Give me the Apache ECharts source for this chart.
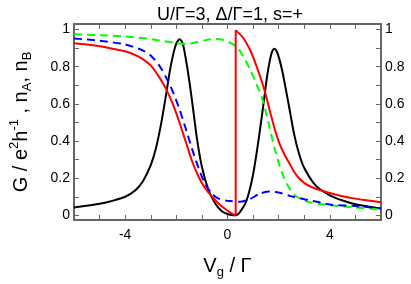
<!DOCTYPE html>
<html><head><meta charset="utf-8">
<script src="https://cdn.jsdelivr.net/npm/echarts@6/dist/echarts.min.js"></script>
<style>html,body{margin:0;padding:0;background:#fff}#c{width:411px;height:284px}</style>
</head><body><div id="c"></div>
<script>
const TITLE = 'U/Γ=3, Δ/Γ=1, s=+';
const X_TICK_LABELS = [-4, 0, 4];
const Y_TICKS = [0,0.1,0.2,0.3,0.4,0.5,0.6,0.7,0.8,0.9,1];
const Y_TICK_LABELS = [0,0.2,0.4,0.6,0.8,1];

const BLACK_X = [-6,-5.5,-5,-4.5,-4,-3.6,-3.3,-3,-2.8,-2.6,-2.4,-2.25,-2.1,-2.0,-1.87,-1.75,-1.64,-1.5,-1.38,-1.19,-1.0,-0.74,-0.48,-0.22,0,0.15,0.32,0.5,0.74,1.0,1.26,1.45,1.55,1.65,1.74,1.83,1.92,2.02,2.16,2.4,2.6,2.8,3.0,3.45,4,4.5,5,5.5,6];
const BLACK_Y = [0.042,0.052,0.062,0.078,0.10,0.135,0.185,0.27,0.36,0.49,0.65,0.78,0.88,0.925,0.948,0.925,0.85,0.73,0.61,0.41,0.26,0.135,0.064,0.022,0.007,0.002,0.0,0.02,0.078,0.22,0.45,0.646,0.75,0.83,0.88,0.897,0.885,0.845,0.765,0.59,0.44,0.33,0.255,0.16,0.108,0.08,0.06,0.048,0.037];

const RED_LEFT_X = [-6,-5.5,-5,-4.5,-4,-3.6,-3.3,-3,-2.67,-2.41,-2.15,-1.9,-1.64,-1.38,-1.12,-0.86,-0.6,-0.35,-0.09,0.1,0.32];
const RED_LEFT_Y = [0.927,0.92,0.91,0.897,0.883,0.862,0.84,0.807,0.744,0.682,0.604,0.509,0.40,0.29,0.205,0.143,0.10,0.064,0.034,0.016,0.0];
const RED_RIGHT_X = [0.32,0.61,0.87,1.13,1.39,1.52,1.65,1.84,2.03,2.23,2.42,2.6,2.8,3.0,3.2,3.45,4,4.5,5,5.5,6];
const RED_RIGHT_Y = [0.997,0.956,0.894,0.805,0.699,0.636,0.565,0.468,0.388,0.326,0.28,0.235,0.20,0.175,0.158,0.143,0.12,0.103,0.09,0.08,0.07];

const GREEN_X = [-6,-5,-4,-3,-2,-1.64,-1.25,-0.86,-0.48,-0.09,0.1,0.36,0.61,0.87,1.13,1.39,1.52,1.65,1.84,2.03,2.23,2.42,2.6,2.8,3.0,3.2,3.6,4,5,6];
const GREEN_Y = [0.975,0.97,0.963,0.949,0.927,0.923,0.93,0.943,0.949,0.943,0.93,0.908,0.858,0.788,0.708,0.615,0.545,0.468,0.362,0.27,0.195,0.145,0.113,0.092,0.079,0.07,0.061,0.055,0.042,0.032];

const BLUE_X = [-6,-5,-4,-3.3,-3,-2.67,-2.41,-2.15,-1.9,-1.64,-1.38,-1.12,-0.86,-0.6,-0.35,0,0.1,0.48,0.87,1.26,1.65,2.03,2.42,3,3.5,4,5,6];
const BLUE_Y = [0.952,0.94,0.92,0.887,0.86,0.807,0.745,0.67,0.58,0.47,0.355,0.25,0.165,0.115,0.09,0.078,0.077,0.073,0.087,0.117,0.128,0.122,0.105,0.087,0.073,0.058,0.05,0.037];

const zip = (xs, ys) => xs.map((x, i) => [x, ys[i]]);
const FONT = 'Liberation Sans, Arial, Helvetica, sans-serif';
const AXC = '#666';

function lineSeries(data, color, dashed, smooth) {
  return {
    type: 'line', data: data, showSymbol: false, symbol: 'none',
    smooth: smooth, sampling: null,
    lineStyle: { color: color, width: 2, type: dashed ? [8, 5] : 'solid' },
    xAxisIndex: 0, yAxisIndex: 0, animation: false, z: 3
  };
}

const xBase = {
  type: 'value', min: -6, max: 6, interval: 1,
  axisLine: { show: true, onZero: false, lineStyle: { color: AXC, width: 2 } },
  axisTick: { show: true, inside: true, length: 5, lineStyle: { color: AXC, width: 1 } },
  splitLine: { show: false }
};
const yBase = {
  type: 'value', min: -0.025, max: 1.03,
  axisLine: { show: true, onZero: false, lineStyle: { color: AXC, width: 2 } },
  axisTick: { show: true, inside: true, length: 5, customValues: Y_TICKS, lineStyle: { color: AXC, width: 1 } },
  splitLine: { show: false }
};
const yLabelFmt = v => String(Math.round(v * 10) / 10);

const chart = echarts.init(document.getElementById('c'), null, { renderer: 'canvas' });
chart.setOption({
  backgroundColor: '#fff',
  animation: false,
  title: {
    text: TITLE, left: 225, top: 1, textAlign: 'center',
    textStyle: { fontFamily: FONT, fontSize: 18, fontWeight: 'normal', color: '#000' }
  },
  grid: { left: 69, right: 30, top: 24, bottom: 60 },
  xAxis: [
    Object.assign({}, xBase, {
      position: 'bottom',
      name: 'V{sub|g} / Γ', nameLocation: 'middle', nameGap: 33,
      nameTextStyle: { fontFamily: FONT, fontSize: 20, color: '#000', lineHeight: 26,
        rich: { sub: { fontFamily: FONT, fontSize: 13, lineHeight: 13, verticalAlign: 'bottom', color: '#000' } } },
      axisLabel: { show: true, margin: 8, fontFamily: FONT, fontSize: 14, color: '#000',
        formatter: v => (X_TICK_LABELS.indexOf(v) >= 0 ? String(v) : '') }
    }),
    Object.assign({}, xBase, { position: 'top', axisLabel: { show: false } })
  ],
  yAxis: [
    Object.assign({}, yBase, {
      position: 'left',
      name: 'G / e{sup|2}h{sup|-1} , n{sub|A}, n{sub|B}', nameLocation: 'middle', nameRotate: 90, nameGap: 40,
      nameTextStyle: { fontFamily: FONT, fontSize: 20, color: '#000', lineHeight: 26,
        rich: {
          sup: { fontFamily: FONT, fontSize: 13, lineHeight: 13, verticalAlign: 'top', color: '#000' },
          sub: { fontFamily: FONT, fontSize: 13, lineHeight: 13, verticalAlign: 'bottom', color: '#000' }
        } },
      axisLabel: { show: true, margin: 4, fontFamily: FONT, fontSize: 14, color: '#000',
        customValues: Y_TICK_LABELS, formatter: yLabelFmt }
    }),
    Object.assign({}, yBase, {
      position: 'right',
      axisLabel: { show: true, margin: 4, fontFamily: FONT, fontSize: 14, color: '#000',
        customValues: Y_TICK_LABELS, formatter: yLabelFmt }
    })
  ],
  series: [
    lineSeries(zip(BLACK_X, BLACK_Y), '#000000', false, 0.25),
    lineSeries(zip(GREEN_X, GREEN_Y), '#00ff00', true, 0.25),
    lineSeries(zip(BLUE_X, BLUE_Y), '#0000ff', true, 0.25),
    lineSeries(zip(RED_LEFT_X, RED_LEFT_Y), '#ff0000', false, 0.25),
    lineSeries([[RED_LEFT_X[RED_LEFT_X.length - 1], RED_LEFT_Y[RED_LEFT_Y.length - 1]],
                [RED_RIGHT_X[0], RED_RIGHT_Y[0]]], '#ff0000', false, false),
    lineSeries(zip(RED_RIGHT_X, RED_RIGHT_Y), '#ff0000', false, 0.25)
  ]
});
</script></body></html>
